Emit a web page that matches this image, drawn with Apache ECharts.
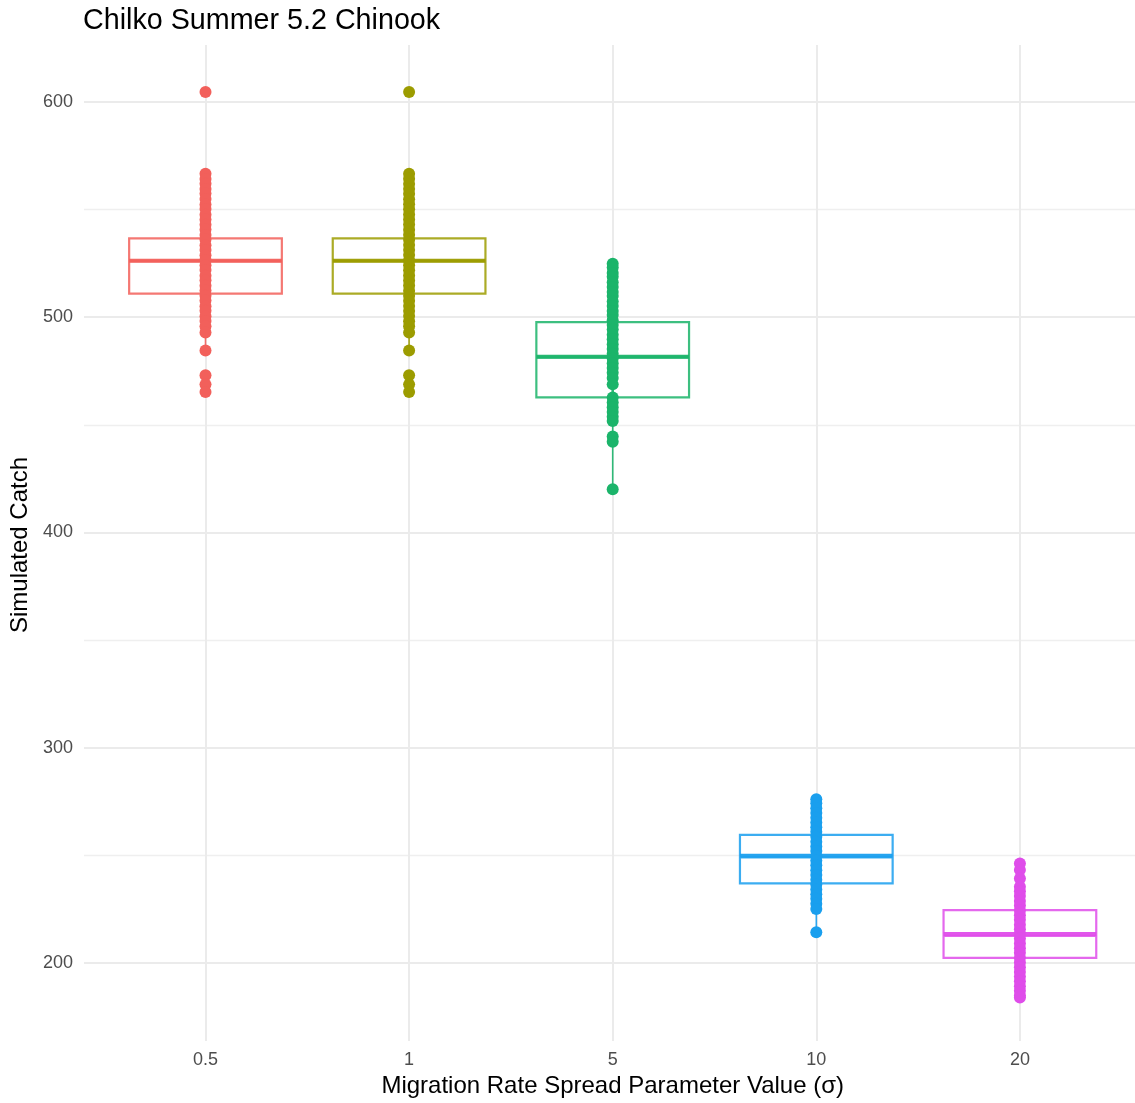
<!DOCTYPE html>
<html><head><meta charset="utf-8">
<script src="https://cdn.jsdelivr.net/npm/echarts@6/dist/echarts.min.js"></script>
<style>html,body{margin:0;padding:0;background:#fff}#c{width:1135px;height:1103px}</style>
</head><body><div id="c"></div>
<script>
const categories = ['0.5', '1', '5', '10', '20'];
const colors = ['#F2605B', '#9C9C00', '#1BB46A', '#1A9FEE', '#DF4DEA'];
// [lower whisker, Q1, median, Q3, upper whisker]
const boxStats = [
  [484.3, 511.0, 526.1, 536.6, 566.5],
  [484.3, 511.0, 526.1, 536.6, 566.5],
  [419.7, 462.8, 481.4, 497.7, 524.7],
  [213.5, 237.0, 249.1, 259.5, 275.4],
  [183.1, 202.4, 212.6, 224.6, 245.5]
];
const points05 = [604.6, 566.5, 564.1, 561.9, 559.4, 557.3, 554.8, 552.2, 550.1, 547.5, 545.3, 542.8, 540.6, 538.0, 535.9, 533.3, 531.1, 528.6, 526.4, 523.9, 521.7, 519.1, 517.0, 514.4, 512.2, 509.7, 507.5, 504.9, 502.8, 500.2, 498.0, 495.5, 492.7, 484.3, 472.7, 468.5, 465.0];
const points1  = [604.6, 566.5, 564.2, 561.8, 559.5, 557.2, 554.7, 552.3, 550.0, 547.6, 545.2, 542.9, 540.5, 538.1, 535.8, 533.4, 531.0, 528.7, 526.3, 524.0, 521.6, 519.2, 516.9, 514.5, 512.1, 509.8, 507.4, 505.0, 502.7, 500.3, 497.9, 495.6, 492.7, 484.3, 472.7, 468.5, 465.0];
const points5  = [524.7, 522.9, 520.4, 518.6, 516.0, 513.8, 511.5, 509.6, 507.1, 505.0, 502.6, 500.8, 498.3, 496.1, 494.0, 491.6, 489.5, 487.2, 485.0, 482.7, 480.6, 478.3, 476.1, 473.9, 471.5, 468.5, 462.4, 460.1, 457.9, 455.6, 453.4, 451.5, 444.2, 441.8, 419.7];
const points10 = [275.4, 273.5, 271.2, 269.0, 266.8, 264.5, 262.3, 260.2, 257.9, 255.6, 253.4, 251.3, 249.0, 246.8, 244.6, 242.3, 240.1, 237.9, 235.7, 233.4, 231.2, 229.0, 226.7, 224.3, 213.5];
const points20 = [245.5, 242.4, 238.5, 234.6, 232.5, 230.3, 228.0, 225.9, 223.6, 221.4, 219.3, 217.0, 214.8, 212.6, 210.5, 208.2, 206.0, 203.9, 201.6, 199.4, 197.2, 195.0, 192.8, 190.6, 188.3, 186.2, 184.0, 183.1];
const pointSets = [points05, points1, points5, points10, points20];
const yMin = 162.83, yMax = 625.55;

const FONT = 'Liberation Sans';
const GRID_TOP = 47, GRID_BOTTOM = 60;
const chart = echarts.init(document.getElementById('c'), null, {renderer: 'canvas'});

const boxData = boxStats.map((s, i) => ({value: [s[1], s[1], s[2], s[3], s[3]], itemStyle: {borderColor: colors[i]}}));
const whiskerData = boxStats.map((s, i) => ({value: s.slice(), itemStyle: {borderColor: colors[i]}}));
const medianData = boxStats.map((s, i) => ({value: [s[2], s[2], s[2], s[2], s[2]], itemStyle: {borderColor: colors[i]}}));

const series = [
  {type: 'boxplot', xAxisIndex: 1, yAxisIndex: 1, data: whiskerData, boxWidth: [1, 1], z: 2,
   itemStyle: {color: 'transparent', borderWidth: 1.6, opacity: 0.9}, emphasis: {disabled: true}, silent: true},
  {type: 'boxplot', xAxisIndex: 2, yAxisIndex: 2, data: boxData, boxWidth: ['75%', '75%'], z: 2,
   itemStyle: {color: 'transparent', borderWidth: 2.2, opacity: 0.85}, emphasis: {disabled: true}, silent: true},
  {type: 'boxplot', xAxisIndex: 3, yAxisIndex: 3, data: medianData, boxWidth: ['75%', '75%'], z: 3,
   itemStyle: {color: 'transparent', borderWidth: 4, opacity: 0.95}, emphasis: {disabled: true}, silent: true}
];
pointSets.forEach((arr, i) => {
  series.push({
    type: 'scatter', xAxisIndex: 3, yAxisIndex: 3, z: 5,
    symbol: 'circle', symbolSize: 12,
    itemStyle: {color: colors[i], opacity: 1},
    data: arr.map(v => [categories[i], v]),
    emphasis: {disabled: true}, silent: true
  });
});

const plotGrid = {left: 103.7, right: 13.3, top: GRID_TOP, bottom: GRID_BOTTOM};
const hiddenCat = gi => ({gridIndex: gi, type: 'category', data: categories, show: false});
const hiddenVal = gi => ({gridIndex: gi, type: 'value', min: yMin, max: yMax, show: false});

chart.setOption({
  animation: false,
  backgroundColor: '#fff',
  title: {text: 'Chilko Summer 5.2 Chinook', left: 78, top: 2,
    textStyle: {fontFamily: FONT, fontSize: 28.7, fontWeight: 'normal', color: '#000'}},
  grid: [
    {left: 84, right: 0, top: GRID_TOP, bottom: GRID_BOTTOM},
    Object.assign({}, plotGrid),
    Object.assign({}, plotGrid),
    Object.assign({}, plotGrid)
  ],
  xAxis: [
    {gridIndex: 0, type: 'value', min: 0, max: 1, show: false},
    hiddenCat(1),
    hiddenCat(2),
    {gridIndex: 3, type: 'category', data: categories,
     axisLine: {show: false},
     axisTick: {show: true, alignWithLabel: true, inside: true, length: 996, lineStyle: {color: '#EBEBEB', width: 2}},
     splitLine: {show: false},
     axisLabel: {fontFamily: FONT, fontSize: 18, color: '#4D4D4D', margin: 10},
     name: 'Migration Rate Spread Parameter Value (σ)', nameLocation: 'middle', nameGap: 33,
     nameTextStyle: {fontFamily: FONT, fontSize: 24, color: '#000'}}
  ],
  yAxis: [
    {gridIndex: 0, type: 'value', min: yMin, max: yMax,
     axisLine: {show: false}, axisTick: {show: false},
     axisLabel: {fontFamily: FONT, fontSize: 18, color: '#4D4D4D', margin: 11, showMinLabel: false, showMaxLabel: false,
       formatter: v => (Math.abs(v % 100) < 1e-6 ? String(Math.round(v)) : '')},
     splitLine: {show: true, showMinLine: false, showMaxLine: false, lineStyle: {color: '#EBEBEB', width: 2}},
     minorTick: {show: false, splitNumber: 2},
     minorSplitLine: {show: true, lineStyle: {color: '#EFEFEF', width: 1.4}},
     name: 'Simulated Catch', nameLocation: 'middle', nameGap: 52, nameRotate: 90,
     nameTextStyle: {fontFamily: FONT, fontSize: 24, color: '#000'}},
    hiddenVal(1),
    hiddenVal(2),
    hiddenVal(3)
  ],
  series: series
});
</script></body></html>
